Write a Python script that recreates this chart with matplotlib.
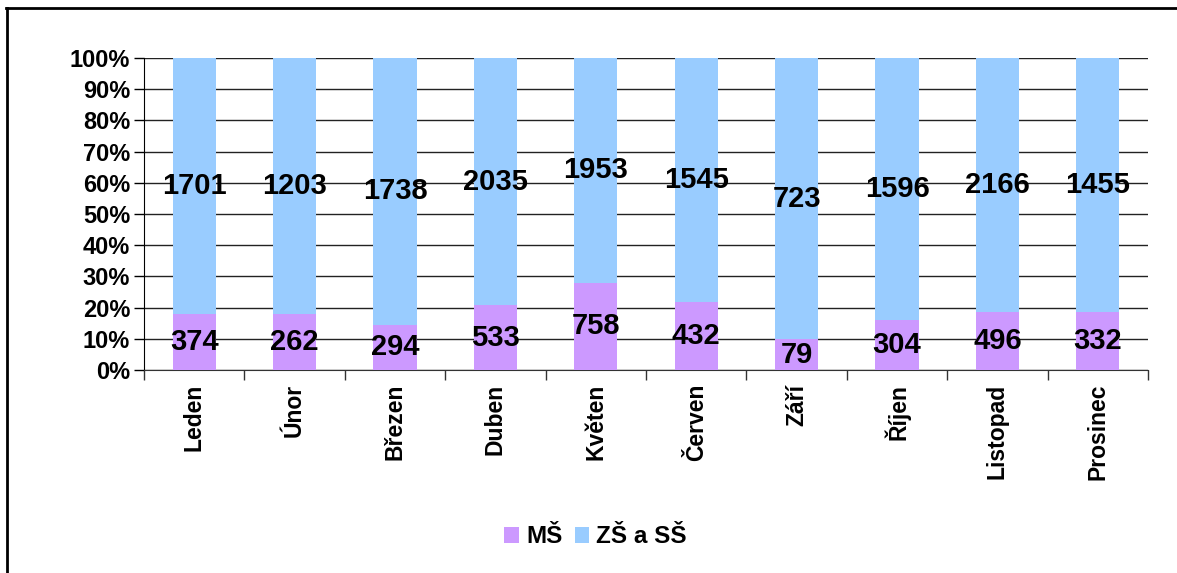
import numpy as np
import matplotlib
matplotlib.use('Agg')
from matplotlib import pyplot as plt
from matplotlib.lines import Line2D

plt.rcParams['font.family'] = ['Liberation Sans', 'DejaVu Sans']
plt.rcParams['font.weight'] = 'bold'

months = ['Leden', 'Únor', 'Březen', 'Duben', 'Květen', 'Červen',
          'Září', 'Říjen', 'Listopad', 'Prosinec']
ms = [374, 262, 294, 533, 758, 432, 79, 304, 496, 332]
zs_ss = [1701, 1203, 1738, 2035, 1953, 1545, 723, 1596, 2166, 1455]
series_names = ['MŠ', 'ZŠ a SŠ']

colorMS = '#CC99FF'
colorZS = '#99CCFF'

ms_arr = np.array(ms, dtype=float)
zs_arr = np.array(zs_ss, dtype=float)
total = ms_arr + zs_arr
ms_pct = ms_arr / total * 100
zs_pct = zs_arr / total * 100

fig = plt.figure(figsize=(11.77, 5.73), dpi=100)
ax = fig.add_axes([0.1223, 0.3543, 0.8531, 0.5445])

x = np.arange(len(months))
ax.bar(x, ms_pct, width=0.43, color=colorMS, label=series_names[0], zorder=3)
ax.bar(x, zs_pct, width=0.43, bottom=ms_pct, color=colorZS, label=series_names[1], zorder=3)

# data labels centered in each segment
for i in range(len(months)):
    ax.text(x[i], ms_pct[i] / 2, str(ms[i]), ha='center', va='center',
            fontsize=21, fontweight='bold', zorder=4)
    ax.text(x[i], ms_pct[i] + zs_pct[i] / 2, str(zs_ss[i]), ha='center', va='center',
            fontsize=21, fontweight='bold', zorder=4)

ax.set_xlim(-0.5, len(months) - 0.5)
ax.set_ylim(0, 100)
ax.set_yticks(np.arange(0, 101, 10))
ax.set_yticklabels(['%d%%' % v for v in range(0, 101, 10)], fontsize=17, fontweight='bold')
ax.yaxis.grid(True, color='#222222', linewidth=1, zorder=0)
ax.tick_params(axis='y', length=7, width=1, color='black', pad=3)

ax.set_xticks(x)
ax.set_xticklabels(months, rotation=90, fontsize=16.5, fontweight='bold')
ax.tick_params(axis='x', length=0, pad=10)
ax.set_xticks(np.arange(-0.5, len(months), 1), minor=True)
ax.tick_params(axis='x', which='minor', length=7, width=1, color='#333333')

for side in ['top', 'right']:
    ax.spines[side].set_visible(False)
ax.spines['left'].set_color('black')
ax.spines['bottom'].set_color('#333333')

leg = fig.legend(loc='center', bbox_to_anchor=(0.506, 0.063), ncol=2, frameon=False,
                 prop={'size': 17.5, 'weight': 'bold'}, handlelength=0.6, handleheight=0.6,
                 handletextpad=0.3, columnspacing=0.5)

# outer chart frame (partly cropped)
fig.add_artist(Line2D([0.0063, 0.0063], [0, 0.9855], transform=fig.transFigure,
                      color='black', linewidth=2))
fig.add_artist(Line2D([0.0055, 1.0], [0.9855, 0.9855], transform=fig.transFigure,
                      color='black', linewidth=2))

fig.savefig('out.png', dpi=100)
